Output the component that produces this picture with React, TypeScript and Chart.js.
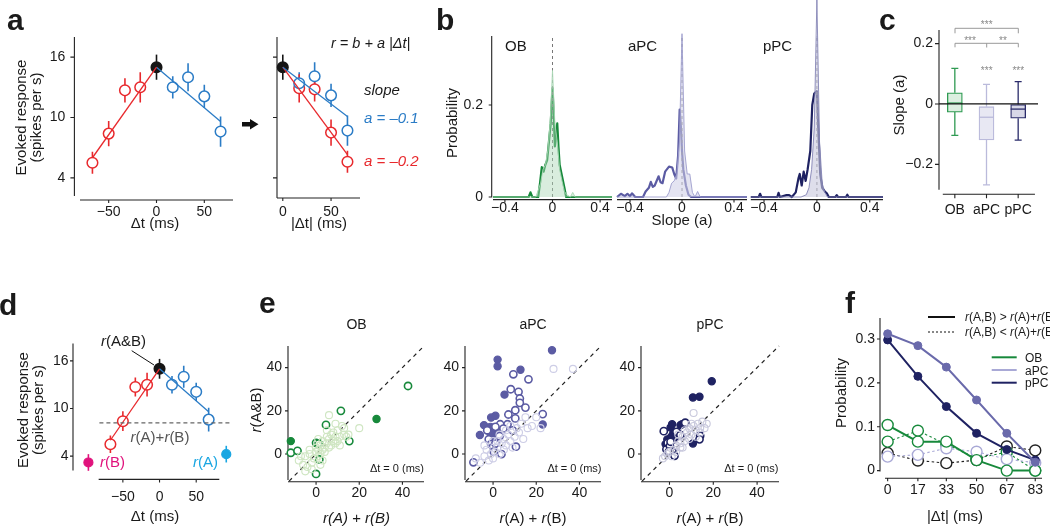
import React, { useEffect, useRef } from "react";
import { Chart, registerables } from "chart.js";

Chart.register(...registerables);

const FONT = '"Liberation Sans", Arial, Helvetica, sans-serif';

const RED = "#e8292d";
const BLUE = "#2b7cc6";
const BLACK = "#151515";
const MAGENTA = "#e0127c";
const CYAN = "#1aa6e2";
const OB_C = "#17893b";
const APC_C = "#5b5ba3";
const PPC_C = "#1f2262";

// ---------- panel a (left) ----------
const A_dtNeg = [-67, -50, -33, -17];
const A_respNeg = [5.5, 8.4, 12.7, 13.0];
const A_errNeg = [1.1, 1.25, 1.2, 1.5];
const A_dt0 = [0];
const A_resp0 = [15.0];
const A_err0 = [1.25];
const A_dtPos = [17, 33, 50, 67];
const A_respPos = [13.0, 14.0, 12.1, 8.6];
const A_errPos = [1.1, 1.4, 1.15, 1.5];
const A_fitRedX = [-67, 0];
const A_fitRedY = [6.0, 15.0];
const A_fitBlueX = [0, 67];
const A_fitBlueY = [15.0, 9.6];
const A_yTicks = [4, 10, 16];
const A_xTicks = [-50, 0, 50];

// ---------- panel a (right) ----------
const A2_dt = [17, 33, 50, 67];
const A2_blue = [13.4, 14.1, 12.2, 8.7];
const A2_blueErr = [1.1, 1.4, 1.15, 1.5];
const A2_red = [12.9, 12.8, 8.5, 5.6];
const A2_redErr = [1.4, 1.2, 1.3, 1.1];
const A2_fitX = [0, 67];
const A2_fitBlueY = [15.0, 10.1];
const A2_fitRedY = [15.0, 6.3];
const A2_xTicks = [0, 50];

// ---------- panel b ----------
const B_obThinX = [-0.5, -0.14, -0.1, -0.08, -0.06, -0.04, -0.02, 0, 0.02, 0.04, 0.06, 0.08, 0.1, 0.12, 0.15, 0.17, 0.19, 0.5];
const B_obThinY = [0, 0, 0.03, 0.06, 0.07, 0.1, 0.16, 0.275, 0.16, 0.12, 0.06, 0.035, 0.012, 0.005, 0, 0.01, 0, 0];
const B_obThickX = [-0.5, -0.2, -0.185, -0.17, -0.12, -0.105, -0.09, -0.075, -0.06, -0.045, -0.03, -0.015, 0, 0.01, 0.02, 0.03, 0.04, 0.05, 0.06, 0.08, 0.1, 0.115, 0.5];
const B_obThickY = [0, 0, 0.01, 0, 0, 0.03, 0.065, 0.055, 0.07, 0.08, 0.12, 0.16, 0.237, 0.18, 0.11, 0.13, 0.16, 0.11, 0.07, 0.045, 0.02, 0, 0];
const B_apcThinX = [-0.5, -0.12, -0.1, -0.08, -0.06, -0.04, -0.02, 0, 0.02, 0.04, 0.06, 0.08, 0.1, 0.12, 0.14, 0.5];
const B_apcThinY = [0, 0, 0.01, 0.03, 0.035, 0.05, 0.12, 0.355, 0.1, 0.05, 0.05, 0.01, 0, 0.012, 0, 0];
const B_apcThickX = [-0.5, -0.47, -0.44, -0.42, -0.4, -0.385, -0.36, -0.3, -0.28, -0.255, -0.24, -0.225, -0.21, -0.18, -0.165, -0.15, -0.13, -0.1, -0.075, -0.06, -0.045, -0.03, -0.018, -0.008, 0, 0.01, 0.03, 0.05, 0.07, 0.5];
const B_apcThickY = [0, 0.007, 0.002, 0.007, 0.002, 0.008, 0, 0, 0.012, 0.02, 0.033, 0.022, 0.025, 0.045, 0.032, 0.03, 0.055, 0.066, 0.064, 0.05, 0.04, 0.09, 0.19, 0.15, 0.1, 0.06, 0.025, 0.005, 0, 0];
const B_ppcThinX = [-0.5, -0.12, -0.08, -0.06, -0.04, -0.02, 0, 0.02, 0.04, 0.06, 0.08, 0.5];
const B_ppcThinY = [0, 0, 0.005, 0.02, 0.06, 0.15, 0.43, 0.12, 0.03, 0.01, 0, 0];
const B_ppcThickX = [-0.5, -0.44, -0.43, -0.42, -0.3, -0.29, -0.28, -0.23, -0.21, -0.19, -0.16, -0.14, -0.13, -0.115, -0.1, -0.085, -0.07, -0.05, -0.035, -0.02, 0, 0.01, 0.025, 0.04, 0.06, 0.075, 0.09, 0.14, 0.15, 0.16, 0.22, 0.23, 0.24, 0.5];
const B_ppcThickY = [0, 0, 0.007, 0, 0, 0.009, 0, 0.004, 0.004, 0, 0.01, 0.04, 0.05, 0.025, 0.055, 0.035, 0.06, 0.1, 0.2, 0.225, 0.23, 0.15, 0.05, 0.02, 0.012, 0.008, 0, 0, 0.004, 0, 0, 0.005, 0, 0];
const B_zeroX = [0, 0];
const B_zeroY = [0, 0.35];
const B_xTicks = [-0.4, 0, 0.4];
const B_yTicks = [0, 0.2];

// ---------- panel c ----------
const C_cats = ["OB", "aPC", "pPC"];
const C_whiskLow = [-0.104, -0.268, -0.12];
const C_q1 = [-0.027, -0.119, -0.047];
const C_median = [0.003, -0.044, -0.017];
const C_q3 = [0.037, -0.009, -0.002];
const C_whiskHigh = [0.118, 0.065, 0.074];
const C_fill = ["#dcefe0", "#e8e8f3", "#d8d8e7"];
const C_stroke = ["#2f9a52", "#babadb", "#2b2c6b"];
const C_yTicks = [-0.2, 0, 0.2];

// ---------- panel d ----------
const D_rBx = [-97];
const D_rBy = [3.2];
const D_rBerr = [1.05];
const D_rAx = [91];
const D_rAy = [4.25];
const D_rAerr = [1.05];
const D_sumX = [-82, 98];
const D_sumY = [8.2, 8.2];

// ---------- panel e ----------
const E_obFaintX = [-8, -6, -5, -4, -3, -3, -2, -1, 0, 0, 1, 1, 2, 2, 3, 3, 4, 4, 5, 5, 6, 6, 6, 7, 7, 8, 8, 9, 9, 10, 10, 11, 12, 13, 13, 14, 15, 20, -2, -5, 1, 3, -7, 2, 5, 9, 11];
const E_obFaintY = [-3, -5, -1, -6, 0, 2, -4, -2, 1, 3, -1, 2, 0, 4, 2, 6, 3, 1, 5, 8, 7, 3, 18, 9, 4, 6, 10, 5, 8, 11, 6, 8, 13, 9, 12, 8, 9, 12, -7, -8, 7, -3, -1, -5, 11, 14, 4];
const E_obOpenX = [-11.7, -8.6, 0, 1.2, 1.5, 0, 4.6, 11.5, 15.4, 42.6];
const E_obOpenY = [0.6, 1.5, 5.2, 4.9, -2.5, -9.2, 13.5, 20, 6, 31.5];
const E_obFillX = [-11.7, 28];
const E_obFillY = [6, 16.2];
const E_apcFaintX = [-8, -6, -4, -3, -2, -1, 0, 1, 2, 3, 4, 5, 5, 6, 7, 8, 9, 10, 11, 12, 13, 14, 15, 16, 18, 20, 22, 37, 28, 2, 3, 6, 8, -4, 0];
const E_apcFaintY = [-2, -4, -1, 2, -3, 0, -2, 1, 3, 0, 5, 2, 7, 4, 9, 6, 3, 8, 12, 10, 14, 7, 17, 12, 13, 17, 12, 39.4, 39.4, 6, 9, 11, 13, 4, 6];
const E_apcOpenX = [-9.1, -2.7, -2, -0.9, 0, 0.3, 1.1, 3, 3.3, 3.9, 6.7, 7.1, 8.2, 9.4, 10.3, 10.3, 10.6, 11.8, 12.4, 12.4, 15, 16.4, 23, 4.8, 1.1, 9.1];
const E_apcOpenY = [-3.8, 11, 6.8, 4.6, 3.4, 1.1, 4.9, 8.3, 13.8, 0, 13.8, 18.3, 30, 36.9, 20.3, 16.5, 3.4, 28.8, 25.7, 23.7, 21.5, 34.6, 18.5, 11.8, 12.6, 11];
const E_apcFillX = [-6.1, -4.2, -0.9, 1.1, 2.1, 2.1, 5.3, 12.7, 23, 27.3, -1.2, 0.3, 1.2, 2.1, -1.2];
const E_apcFillY = [8.8, 13.4, 16.9, 17.7, 43.7, 40.6, 27.5, 39, 13.7, 48, 12.6, 8, 10.3, 11.8, 9.5];
const E_ppcFaintX = [-3, -2, -1, 0, 1, 2, 3, 4, 5, 6, 7, 8, 9, 10, 11, 12, 13, 14, 15, 16, 17, 11, 5, 7, 9, 12, 14, 3, 6, 4, 10];
const E_ppcFaintY = [-2, -1, 0, 1, -1, 2, 4, 6, 5, 8, 6, 10, 12, 9, 13, 11, 14, 12, 15, 12, 14, 19, 3, 11, 7, 8, 10, 1, 3, 9, 14];
const E_ppcOpenX = [-2.6, -1.4, -0.8, 0.2, 1.4, 2.3, 3.2, 5, 7.2, 14, 13.7, -0.3, 0.5];
const E_ppcOpenY = [10.6, 2.2, 5.2, 3.7, 1.1, -0.8, 10.3, 8.8, 14.5, 8.5, 6.8, 1.1, 5.7];
const E_ppcFillX = [10.7, 13.7, 19.3, 10.7, -1.8, -1, 0.5, 1.2, 1.7, 2.3, 5, 4.2, 5.7, -0.3, 0.8];
const E_ppcFillY = [26.2, 26.5, 33.7, 4.9, 4.6, 6.8, 12.3, 13.8, 9.5, 7.2, 13.4, 9.5, 13.8, 3.4, 8];
const E_diagX = [-12.5, 50];
const E_diagY = [-12.5, 50];
const E_ticks = [0, 20, 40];

// ---------- panel f ----------
const F_dt = [0, 17, 33, 50, 67, 83];
const F_obAbove = [0.104, 0.066, 0.066, 0.024, 0.0, 0.0];
const F_obBelow = [0.066, 0.091, 0.06, 0.028, 0.042, 0.0];
const F_apcAbove = [0.312, 0.285, 0.236, 0.161, 0.085, 0.019];
const F_apcBelow = [0.032, 0.036, 0.051, 0.043, 0.026, 0.018];
const F_ppcAbove = [0.298, 0.215, 0.146, 0.085, 0.048, 0.024];
const F_ppcBelow = [0.04, 0.023, 0.017, 0.024, 0.055, 0.046];
const F_yTicks = [0, 0.1, 0.2, 0.3];

// ---------- helpers ----------
const zip = (xs: number[], ys: number[]) => xs.map((x, i) => ({ x, y: ys[i] }));
const fmt = (v: number) => (v < 0 ? "\u2212" + String(-v) : String(v));

function lin(min: number, max: number, ticks: number[], pad: number, show = true, size = 14) {
  return {
    type: "linear",
    min,
    max,
    grid: { display: false, drawTicks: false },
    border: { display: false },
    afterBuildTicks: (s: any) => {
      s.ticks = ticks.map((v) => ({ value: v }));
    },
    ticks: {
      display: show,
      padding: pad,
      color: "#1a1a1a",
      autoSkip: false,
      maxRotation: 0,
      font: { family: FONT, size },
      callback: (v: any) => fmt(Number(v)),
    },
  };
}

function lineDS(data: any[], color: string, width: number, extra: any = {}) {
  return { type: "line", data, borderColor: color, borderWidth: width, pointRadius: 0, fill: false, tension: 0, clip: false, ...extra };
}
function ptsDS(data: any[], border: string, bg: string, r: number, bw: number) {
  return {
    type: "line",
    data,
    showLine: false,
    pointRadius: r,
    pointBorderColor: border,
    pointBackgroundColor: bg,
    pointBorderWidth: bw,
    clip: false,
  };
}

type AxLine = { from: number; to: number; off: number; ticks: number[]; len: number };
function drawAxes(chart: any, x?: AxLine, y?: AxLine) {
  const { ctx, chartArea: a, scales } = chart;
  ctx.save();
  ctx.strokeStyle = "#222";
  ctx.lineWidth = 1.1;
  ctx.beginPath();
  if (x) {
    const yy = a.bottom + x.off;
    ctx.moveTo(scales.x.getPixelForValue(x.from), yy);
    ctx.lineTo(scales.x.getPixelForValue(x.to), yy);
    for (const t of x.ticks) {
      const p = scales.x.getPixelForValue(t);
      ctx.moveTo(p, yy);
      ctx.lineTo(p, yy + x.len);
    }
  }
  if (y) {
    const xx = a.left - y.off;
    ctx.moveTo(xx, scales.y.getPixelForValue(y.from));
    ctx.lineTo(xx, scales.y.getPixelForValue(y.to));
    for (const t of y.ticks) {
      const p = scales.y.getPixelForValue(t);
      ctx.moveTo(xx, p);
      ctx.lineTo(xx - y.len, p);
    }
  }
  ctx.stroke();
  ctx.restore();
}

function drawErr(chart: any, xs: number[], ys: number[], es: number[], color: string) {
  const { ctx, scales } = chart;
  ctx.save();
  ctx.strokeStyle = color;
  ctx.lineWidth = 1.6;
  ctx.beginPath();
  xs.forEach((x, i) => {
    const px = scales.x.getPixelForValue(x);
    ctx.moveTo(px, scales.y.getPixelForValue(ys[i] - es[i]));
    ctx.lineTo(px, scales.y.getPixelForValue(ys[i] + es[i]));
  });
  ctx.stroke();
  ctx.restore();
}

function deco(before: ((c: any) => void) | null, after: ((c: any) => void) | null) {
  return {
    id: "deco",
    beforeDatasetsDraw(c: any) {
      if (before) before(c);
    },
    afterDatasetsDraw(c: any) {
      if (after) after(c);
    },
  };
}

type Area = { l: number; t: number; r: number; b: number };
type PanelProps = { area: Area; yW: number; xH: number; padT: number; padR: number; make: () => any };

function ChartPanel({ area, yW, xH, padT, padR, make }: PanelProps) {
  const ref = useRef<HTMLCanvasElement | null>(null);
  const L = Math.round(area.l);
  const T = Math.round(area.t);
  const R = Math.round(area.r);
  const B = Math.round(area.b);
  const left = L - yW;
  const top = T - padT;
  const width = R + padR - left;
  const height = B + xH - top;
  useEffect(() => {
    const cfg = make();
    const opts = cfg.options || {};
    opts.responsive = false;
    opts.maintainAspectRatio = false;
    opts.animation = false;
    opts.devicePixelRatio = 1;
    opts.layout = { padding: { top: padT, right: padR, left: 0, bottom: 0 } };
    opts.plugins = { legend: { display: false }, tooltip: { enabled: false }, title: { display: false } };
    opts.scales.x.afterFit = (s: any) => {
      s.height = xH;
    };
    opts.scales.y.afterFit = (s: any) => {
      s.width = yW;
    };
    cfg.options = opts;
    const ch = new Chart(ref.current as HTMLCanvasElement, cfg);
    return () => ch.destroy();
  }, []);
  return (
    <canvas
      ref={ref}
      width={width}
      height={height}
      style={{ position: "absolute", left, top, width, height, display: "block" }}
    />
  );
}

// ---------- chart builders ----------
function makeA1() {
  return {
    type: "line",
    data: {
      datasets: [
        lineDS(zip(A_fitRedX, A_fitRedY), RED, 1.3),
        lineDS(zip(A_fitBlueX, A_fitBlueY), BLUE, 1.3),
        ptsDS(zip(A_dtNeg, A_respNeg), RED, "#fff", 5.3, 1.5),
        ptsDS(zip(A_dtPos, A_respPos), BLUE, "#fff", 5.3, 1.5),
        ptsDS(zip(A_dt0, A_resp0), BLACK, BLACK, 5.3, 1.5),
      ],
    },
    options: { scales: { x: lin(-80, 80, A_xTicks, 6), y: lin(2, 18, A_yTicks, 14.6) } },
    plugins: [
      deco((c) => {
        drawAxes(c, { from: -80, to: 80, off: 2, ticks: A_xTicks, len: 3 }, { from: 18, to: 2.2, off: 5.6, ticks: A_yTicks, len: 4 });
        drawErr(c, A_dtNeg, A_respNeg, A_errNeg, RED);
        drawErr(c, A_dtPos, A_respPos, A_errPos, BLUE);
        drawErr(c, A_dt0, A_resp0, A_err0, BLACK);
      }, null),
    ],
  };
}

function makeA2() {
  return {
    type: "line",
    data: {
      datasets: [
        lineDS(zip(A2_fitX, A2_fitBlueY), BLUE, 1.3),
        lineDS(zip(A2_fitX, A2_fitRedY), RED, 1.3),
        ptsDS(zip(A2_dt, A2_blue), BLUE, "#fff", 5.3, 1.5),
        ptsDS(zip(A2_dt, A2_red), RED, "#fff", 5.3, 1.5),
        ptsDS(zip(A_dt0, A_resp0), BLACK, BLACK, 5.3, 1.5),
      ],
    },
    options: { scales: { x: lin(-6, 80, A2_xTicks, 6), y: lin(2, 18, A_yTicks, 0, false) } },
    plugins: [
      deco((c) => {
        drawAxes(c, { from: -6, to: 80, off: 0, ticks: A2_xTicks, len: 3 }, { from: 18, to: 2, off: 0, ticks: A_yTicks, len: 4 });
        drawErr(c, A2_dt, A2_blue, A2_blueErr, BLUE);
        drawErr(c, A2_dt, A2_red, A2_redErr, RED);
        drawErr(c, A_dt0, A_resp0, A_err0, BLACK);
      }, null),
    ],
  };
}

function makeB(
  thinX: number[], thinY: number[], thickX: number[], thickY: number[],
  thick: string, thin: string, fill: string, withY: boolean
) {
  return () => ({
    type: "line",
    data: {
      datasets: [
        lineDS(zip(thinX, thinY), thin, 0.9, { fill: "origin", backgroundColor: fill }),
        lineDS(zip(B_zeroX, B_zeroY), "#777", 1, { borderDash: [3, 3] }),
        lineDS(zip(thickX, thickY), thick, 2.2, { borderJoinStyle: "round" }),
      ],
    },
    options: {
      scales: { x: lin(-0.5, 0.5, B_xTicks, 3), y: lin(0, 0.35, B_yTicks, 10, withY) },
    },
    plugins: [
      deco((c) => {
        drawAxes(
          c,
          { from: -0.5, to: 0.5, off: 2.6, ticks: B_xTicks, len: 3 },
          withY ? { from: 0.35, to: -0.001, off: 1.3, ticks: B_yTicks, len: 3 } : undefined
        );
      }, null),
    ],
  });
}

function makeC() {
  return {
    type: "bar",
    data: {
      labels: C_cats,
      datasets: [
        {
          data: C_q1.map((q, i) => [q, C_q3[i]]),
          backgroundColor: C_fill,
          borderColor: C_stroke,
          borderWidth: 1.3,
          borderSkipped: false,
          barThickness: 15,
        },
      ],
    },
    options: {
      scales: {
        x: {
          type: "category",
          offset: true,
          grid: { display: false, drawTicks: false },
          border: { display: false },
          ticks: { padding: 11.6, color: "#1a1a1a", font: { family: FONT, size: 14 }, maxRotation: 0 },
        },
        y: lin(-0.285, 0.245, C_yTicks, 6),
      },
    },
    plugins: [
      deco(
        (c) => {
          drawAxes(c, { from: -0.38, to: 2.53, off: 4.3, ticks: [0, 1, 2], len: 4 }, { from: 0.245, to: -0.284, off: 0, ticks: C_yTicks, len: 4 });
          const { ctx, scales } = c;
          ctx.save();
          ctx.lineWidth = 1.3;
          C_cats.forEach((_, i) => {
            const px = scales.x.getPixelForValue(i);
            ctx.strokeStyle = C_stroke[i];
            ctx.beginPath();
            ctx.moveTo(px, scales.y.getPixelForValue(C_q3[i]));
            ctx.lineTo(px, scales.y.getPixelForValue(C_whiskHigh[i]));
            ctx.moveTo(px, scales.y.getPixelForValue(C_q1[i]));
            ctx.lineTo(px, scales.y.getPixelForValue(C_whiskLow[i]));
            const hi = scales.y.getPixelForValue(C_whiskHigh[i]);
            const lo = scales.y.getPixelForValue(C_whiskLow[i]);
            ctx.moveTo(px - 3.5, hi);
            ctx.lineTo(px + 3.5, hi);
            ctx.moveTo(px - 3.5, lo);
            ctx.lineTo(px + 3.5, lo);
            ctx.stroke();
          });
          ctx.restore();
        },
        (c) => {
          const { ctx, scales, chartArea } = c;
          ctx.save();
          ctx.lineWidth = 1.3;
          C_cats.forEach((_, i) => {
            const px = scales.x.getPixelForValue(i);
            const py = scales.y.getPixelForValue(C_median[i]);
            ctx.strokeStyle = C_stroke[i];
            ctx.beginPath();
            ctx.moveTo(px - 7.5, py);
            ctx.lineTo(px + 7.5, py);
            ctx.stroke();
          });
          const z = scales.y.getPixelForValue(0);
          ctx.strokeStyle = "#111";
          ctx.lineWidth = 1.2;
          ctx.beginPath();
          ctx.moveTo(chartArea.left, z);
          ctx.lineTo(chartArea.right + 4, z);
          ctx.stroke();
          ctx.restore();
        }
      ),
    ],
  };
}

function makeD() {
  return {
    type: "line",
    data: {
      datasets: [
        lineDS(zip(D_sumX, D_sumY), "#666", 1.2, { borderDash: [4, 3] }),
        lineDS(zip(A_fitRedX, A_fitRedY), RED, 1.3),
        lineDS(zip(A_fitBlueX, A_fitBlueY), BLUE, 1.3),
        ptsDS(zip(A_dtNeg, A_respNeg), RED, "#fff", 5.3, 1.5),
        ptsDS(zip(A_dtPos, A_respPos), BLUE, "#fff", 5.3, 1.5),
        ptsDS(zip(A_dt0, A_resp0), BLACK, BLACK, 5.3, 1.5),
        ptsDS(zip(D_rBx, D_rBy), MAGENTA, MAGENTA, 4.5, 1.2),
        ptsDS(zip(D_rAx, D_rAy), CYAN, CYAN, 4.5, 1.2),
      ],
    },
    options: { scales: { x: lin(-118, 92, A_xTicks, 16.4), y: lin(2, 18, A_yTicks, 4.5) } },
    plugins: [
      deco((c) => {
        drawAxes(c, { from: -83, to: 81.5, off: 7.4, ticks: A_xTicks, len: 3 }, { from: 18.2, to: 2.2, off: 0, ticks: A_yTicks, len: 3 });
        drawErr(c, A_dtNeg, A_respNeg, A_errNeg, RED);
        drawErr(c, A_dtPos, A_respPos, A_errPos, BLUE);
        drawErr(c, A_dt0, A_resp0, A_err0, BLACK);
        drawErr(c, D_rBx, D_rBy, D_rBerr, MAGENTA);
        drawErr(c, D_rAx, D_rAy, D_rAerr, CYAN);
      }, null),
    ],
  };
}

function makeE(
  faintX: number[], faintY: number[], openX: number[], openY: number[], fillX: number[], fillY: number[],
  dark: string, faint: string
) {
  return () => ({
    type: "line",
    data: {
      datasets: [
        ptsDS(zip(faintX, faintY), faint, "rgba(255,255,255,0)", 3.5, 1.1),
        lineDS(zip(E_diagX, E_diagY), "#222", 1.2, { borderDash: [4, 4] }),
        ptsDS(zip(openX, openY), dark, "#fff", 3.6, 1.6),
        ptsDS(zip(fillX, fillY), dark, dark, 3.6, 1.2),
      ],
    },
    options: { scales: { x: lin(-13, 50, E_ticks, 5), y: lin(-12, 50, E_ticks, 6) } },
    plugins: [
      deco((c) => {
        drawAxes(c, { from: -13, to: 50, off: 1.8, ticks: E_ticks, len: 3 }, { from: 50, to: -12, off: 0, ticks: E_ticks, len: 3 });
      }, null),
    ],
  });
}

function makeF() {
  const open = (ys: number[], color: string, dash: boolean) => ({
    type: "line",
    data: zip(F_dt, ys),
    borderColor: color,
    borderWidth: dash ? 1.1 : 2,
    borderDash: dash ? [2.5, 2.5] : [],
    pointRadius: 5.5,
    pointBorderColor: color,
    pointBackgroundColor: "#fff",
    pointBorderWidth: 1.4,
    tension: 0,
    clip: false,
    fill: false,
  });
  const filled = (ys: number[], color: string) => ({
    type: "line",
    data: zip(F_dt, ys),
    borderColor: color,
    borderWidth: 2,
    pointRadius: 4,
    pointBorderColor: color,
    pointBackgroundColor: color,
    pointBorderWidth: 1,
    tension: 0,
    clip: false,
    fill: false,
  });
  return {
    type: "line",
    data: {
      datasets: [
        filled(F_apcAbove, "#6a6aab"),
        filled(F_ppcAbove, PPC_C),
        open(F_obAbove, OB_C, false),
        open(F_apcBelow, "#a9a9d6", true),
        open(F_obBelow, OB_C, true),
        open(F_ppcBelow, "#222", true),
      ],
    },
    options: { scales: { x: lin(-4.3, 86.8, F_dt, 6.5), y: lin(-0.01, 0.348, F_yTicks, 5) } },
    plugins: [
      deco((c) => {
        drawAxes(c, { from: -1.5, to: 86.8, off: 3.2, ticks: F_dt, len: 3 }, { from: 0.348, to: -0.002, off: 0, ticks: F_yTicks, len: 3 });
      }, null),
    ],
  };
}

// ---------- svg text helpers ----------
function Tx(p: {
  x: number; y: number; s?: number; a?: string; c?: string; i?: boolean; w?: string; rot?: boolean; children?: any;
}) {
  return (
    <text
      x={p.x}
      y={p.y}
      fontSize={p.s ?? 15}
      textAnchor={p.a ?? "start"}
      fill={p.c ?? "#1a1a1a"}
      fontStyle={p.i ? "italic" : "normal"}
      fontWeight={p.w ?? "normal"}
      fontFamily={FONT}
      transform={p.rot ? `rotate(-90 ${p.x} ${p.y})` : undefined}
    >
      {p.children}
    </text>
  );
}
const It = ({ children }: { children?: any }) => <tspan fontStyle="italic">{children}</tspan>;

export default function App() {
  return (
    <div
      style={{
        position: "absolute",
        left: 0,
        top: 0,
        width: 1050,
        height: 528,
        background: "#fff",
        overflow: "hidden",
      }}
    >
      <ChartPanel area={{ l: 79.6, t: 37.2, r: 232.8, b: 197.8 }} yW={60} xH={30} padT={30} padR={15} make={makeA1} />
      <ChartPanel area={{ l: 276.5, t: 37.2, r: 359.7, b: 197.8 }} yW={10} xH={30} padT={30} padR={15} make={makeA2} />
      <ChartPanel
        area={{ l: 493, t: 36.4, r: 611.7, b: 196.7 }}
        yW={45}
        xH={30}
        padT={36}
        padR={15}
        make={makeB(B_obThinX, B_obThinY, B_obThickX, B_obThickY, OB_C, "#a8d6b3", "rgba(170,215,182,0.45)", true)}
      />
      <ChartPanel
        area={{ l: 615, t: 36.4, r: 746.7, b: 196.7 }}
        yW={2}
        xH={30}
        padT={36}
        padR={15}
        make={makeB(B_apcThinX, B_apcThinY, B_apcThickX, B_apcThickY, APC_C, "#9d9dcd", "rgba(205,205,230,0.55)", false)}
      />
      <ChartPanel
        area={{ l: 749, t: 36.4, r: 883, b: 196.7 }}
        yW={2}
        xH={30}
        padT={36}
        padR={15}
        make={makeB(B_ppcThinX, B_ppcThinY, B_ppcThickX, B_ppcThickY, PPC_C, "#8585b6", "rgba(200,200,222,0.6)", false)}
      />
      <ChartPanel area={{ l: 939.2, t: 30, r: 1034.3, b: 190 }} yW={45} xH={35} padT={25} padR={12} make={makeC} />
      <ChartPanel area={{ l: 72.8, t: 344.8, r: 226.7, b: 471.9 }} yW={50} xH={40} padT={30} padR={15} make={makeD} />
      <ChartPanel
        area={{ l: 287.9, t: 346, r: 424.3, b: 479.9 }}
        yW={35}
        xH={30}
        padT={30}
        padR={15}
        make={makeE(E_obFaintX, E_obFaintY, E_obOpenX, E_obOpenY, E_obFillX, E_obFillY, OB_C, "#cfe6c2")}
      />
      <ChartPanel
        area={{ l: 464.6, t: 346, r: 600.9, b: 479.9 }}
        yW={35}
        xH={30}
        padT={30}
        padR={15}
        make={makeE(E_apcFaintX, E_apcFaintY, E_apcOpenX, E_apcOpenY, E_apcFillX, E_apcFillY, APC_C, "#cdcde6")}
      />
      <ChartPanel
        area={{ l: 640.5, t: 346, r: 778.6, b: 479.9 }}
        yW={35}
        xH={30}
        padT={30}
        padR={15}
        make={makeE(E_ppcFaintX, E_ppcFaintY, E_ppcOpenX, E_ppcOpenY, E_ppcFillX, E_ppcFillY, PPC_C, "#c9c9dd")}
      />
      <ChartPanel area={{ l: 880, t: 318.3, r: 1041.7, b: 475.1 }} yW={35} xH={30} padT={30} padR={8} make={makeF} />

      <svg
        width={1050}
        height={528}
        style={{ position: "absolute", left: 0, top: 0, pointerEvents: "none" }}
      >
        {/* panel letters */}
        <Tx x={7} y={30} s={30} w="bold">a</Tx>
        <Tx x={436} y={30} s={30} w="bold">b</Tx>
        <Tx x={879} y={30} s={30} w="bold">c</Tx>
        <Tx x={-1} y={315} s={30} w="bold">d</Tx>
        <Tx x={259} y={313} s={30} w="bold">e</Tx>
        <Tx x={845} y={313} s={30} w="bold">f</Tx>

        {/* panel a */}
        <Tx x={26} y={117.5} a="middle" rot>Evoked response</Tx>
        <Tx x={41} y={117.5} a="middle" rot>(spikes per s)</Tx>
        <Tx x={155} y={228} a="middle">Δt (ms)</Tx>
        <Tx x={319} y={228} a="middle">|Δt| (ms)</Tx>
        <Tx x={331} y={48} s={14.5} i>r = b + a |Δt|</Tx>
        <Tx x={364} y={95} i>slope</Tx>
        <Tx x={364} y={123} i c={BLUE}>a = –0.1</Tx>
        <Tx x={364} y={166} i c={RED}>a = –0.2</Tx>
        <polygon points="242,122 250,122 250,119 258.5,124.3 250,129.5 250,126.5 242,126.5" fill="#111" />

        {/* panel b */}
        <Tx x={457} y={123} a="middle" rot>Probability</Tx>
        <Tx x={505} y={51}>OB</Tx>
        <Tx x={628} y={51}>aPC</Tx>
        <Tx x={763} y={51}>pPC</Tx>
        <Tx x={682} y={225} a="middle">Slope (a)</Tx>

        {/* panel c */}
        <Tx x={904} y={105} a="middle" rot>Slope (a)</Tx>
        <path d="M955,33.3 L955,28.3 L1018.3,28.3 L1018.3,33.3" stroke="#999" strokeWidth={1} fill="none" />
        <path d="M955,47.3 L955,43.3 L1018.3,43.3 L1018.3,47.3 M986.7,43.3 L986.7,47.5" stroke="#999" strokeWidth={1} fill="none" />
        <Tx x={986.7} y={28} s={10} a="middle" c="#888">***</Tx>
        <Tx x={970} y={44} s={10} a="middle" c="#888">***</Tx>
        <Tx x={1003} y={44} s={10} a="middle" c="#888">**</Tx>
        <Tx x={986.7} y={74} s={10} a="middle" c="#888">***</Tx>
        <Tx x={1018.3} y={74} s={10} a="middle" c="#888">***</Tx>

        {/* panel d */}
        <Tx x={28} y={410} a="middle" rot>Evoked response</Tx>
        <Tx x={42.5} y={410} a="middle" rot>(spikes per s)</Tx>
        <Tx x={155} y={521} a="middle">Δt (ms)</Tx>
        <Tx x={101} y={346}><It>r</It>(A&amp;B)</Tx>
        <line x1={131.7} y1={350.7} x2={154} y2={365} stroke="#111" strokeWidth={1} />
        <Tx x={160} y={442} a="middle" c="#555"><It>r</It>(A)+<It>r</It>(B)</Tx>
        <Tx x={100} y={467} c={MAGENTA}><It>r</It>(B)</Tx>
        <Tx x={193} y={467} c={CYAN}><It>r</It>(A)</Tx>

        {/* panel e */}
        <Tx x={261} y={410} a="middle" rot><It>r</It>(A&amp;B)</Tx>
        <Tx x={356.5} y={329} s={14} a="middle">OB</Tx>
        <Tx x={533} y={329} s={14} a="middle">aPC</Tx>
        <Tx x={710} y={329} s={14} a="middle">pPC</Tx>
        <Tx x={356.5} y={523} a="middle" i>r(A) + r(B)</Tx>
        <Tx x={533} y={523} a="middle"><It>r</It>(A) + <It>r</It>(B)</Tx>
        <Tx x={710} y={523} a="middle"><It>r</It>(A) + <It>r</It>(B)</Tx>
        <Tx x={424} y={471.7} s={11} a="end">Δt = 0 (ms)</Tx>
        <Tx x={601.5} y={471.7} s={11} a="end">Δt = 0 (ms)</Tx>
        <Tx x={778.3} y={471.7} s={11} a="end">Δt = 0 (ms)</Tx>

        {/* panel f */}
        <Tx x={846} y={393} a="middle" rot>Probability</Tx>
        <Tx x={955} y={521} a="middle">|Δt| (ms)</Tx>
        <line x1={928} y1={317} x2={955} y2={317} stroke="#111" strokeWidth={2} />
        <line x1={928} y1={332} x2={955} y2={332} stroke="#111" strokeWidth={1.1} strokeDasharray="2 2" />
        <Tx x={965} y={321} s={12}><It>r</It>(A,B) &gt; <It>r</It>(A)+<It>r</It>(B)</Tx>
        <Tx x={965} y={336} s={12}><It>r</It>(A,B) &lt; <It>r</It>(A)+<It>r</It>(B)</Tx>
        <line x1={991.7} y1={357.3} x2={1016.7} y2={357.3} stroke={OB_C} strokeWidth={2} />
        <line x1={991.7} y1={370} x2={1016.7} y2={370} stroke="#a9a9d6" strokeWidth={2} />
        <line x1={991.7} y1={382.7} x2={1016.7} y2={382.7} stroke={PPC_C} strokeWidth={2} />
        <Tx x={1025} y={361.5} s={12}>OB</Tx>
        <Tx x={1025} y={374.5} s={12}>aPC</Tx>
        <Tx x={1025} y={387} s={12}>pPC</Tx>
      </svg>
    </div>
  );
}
